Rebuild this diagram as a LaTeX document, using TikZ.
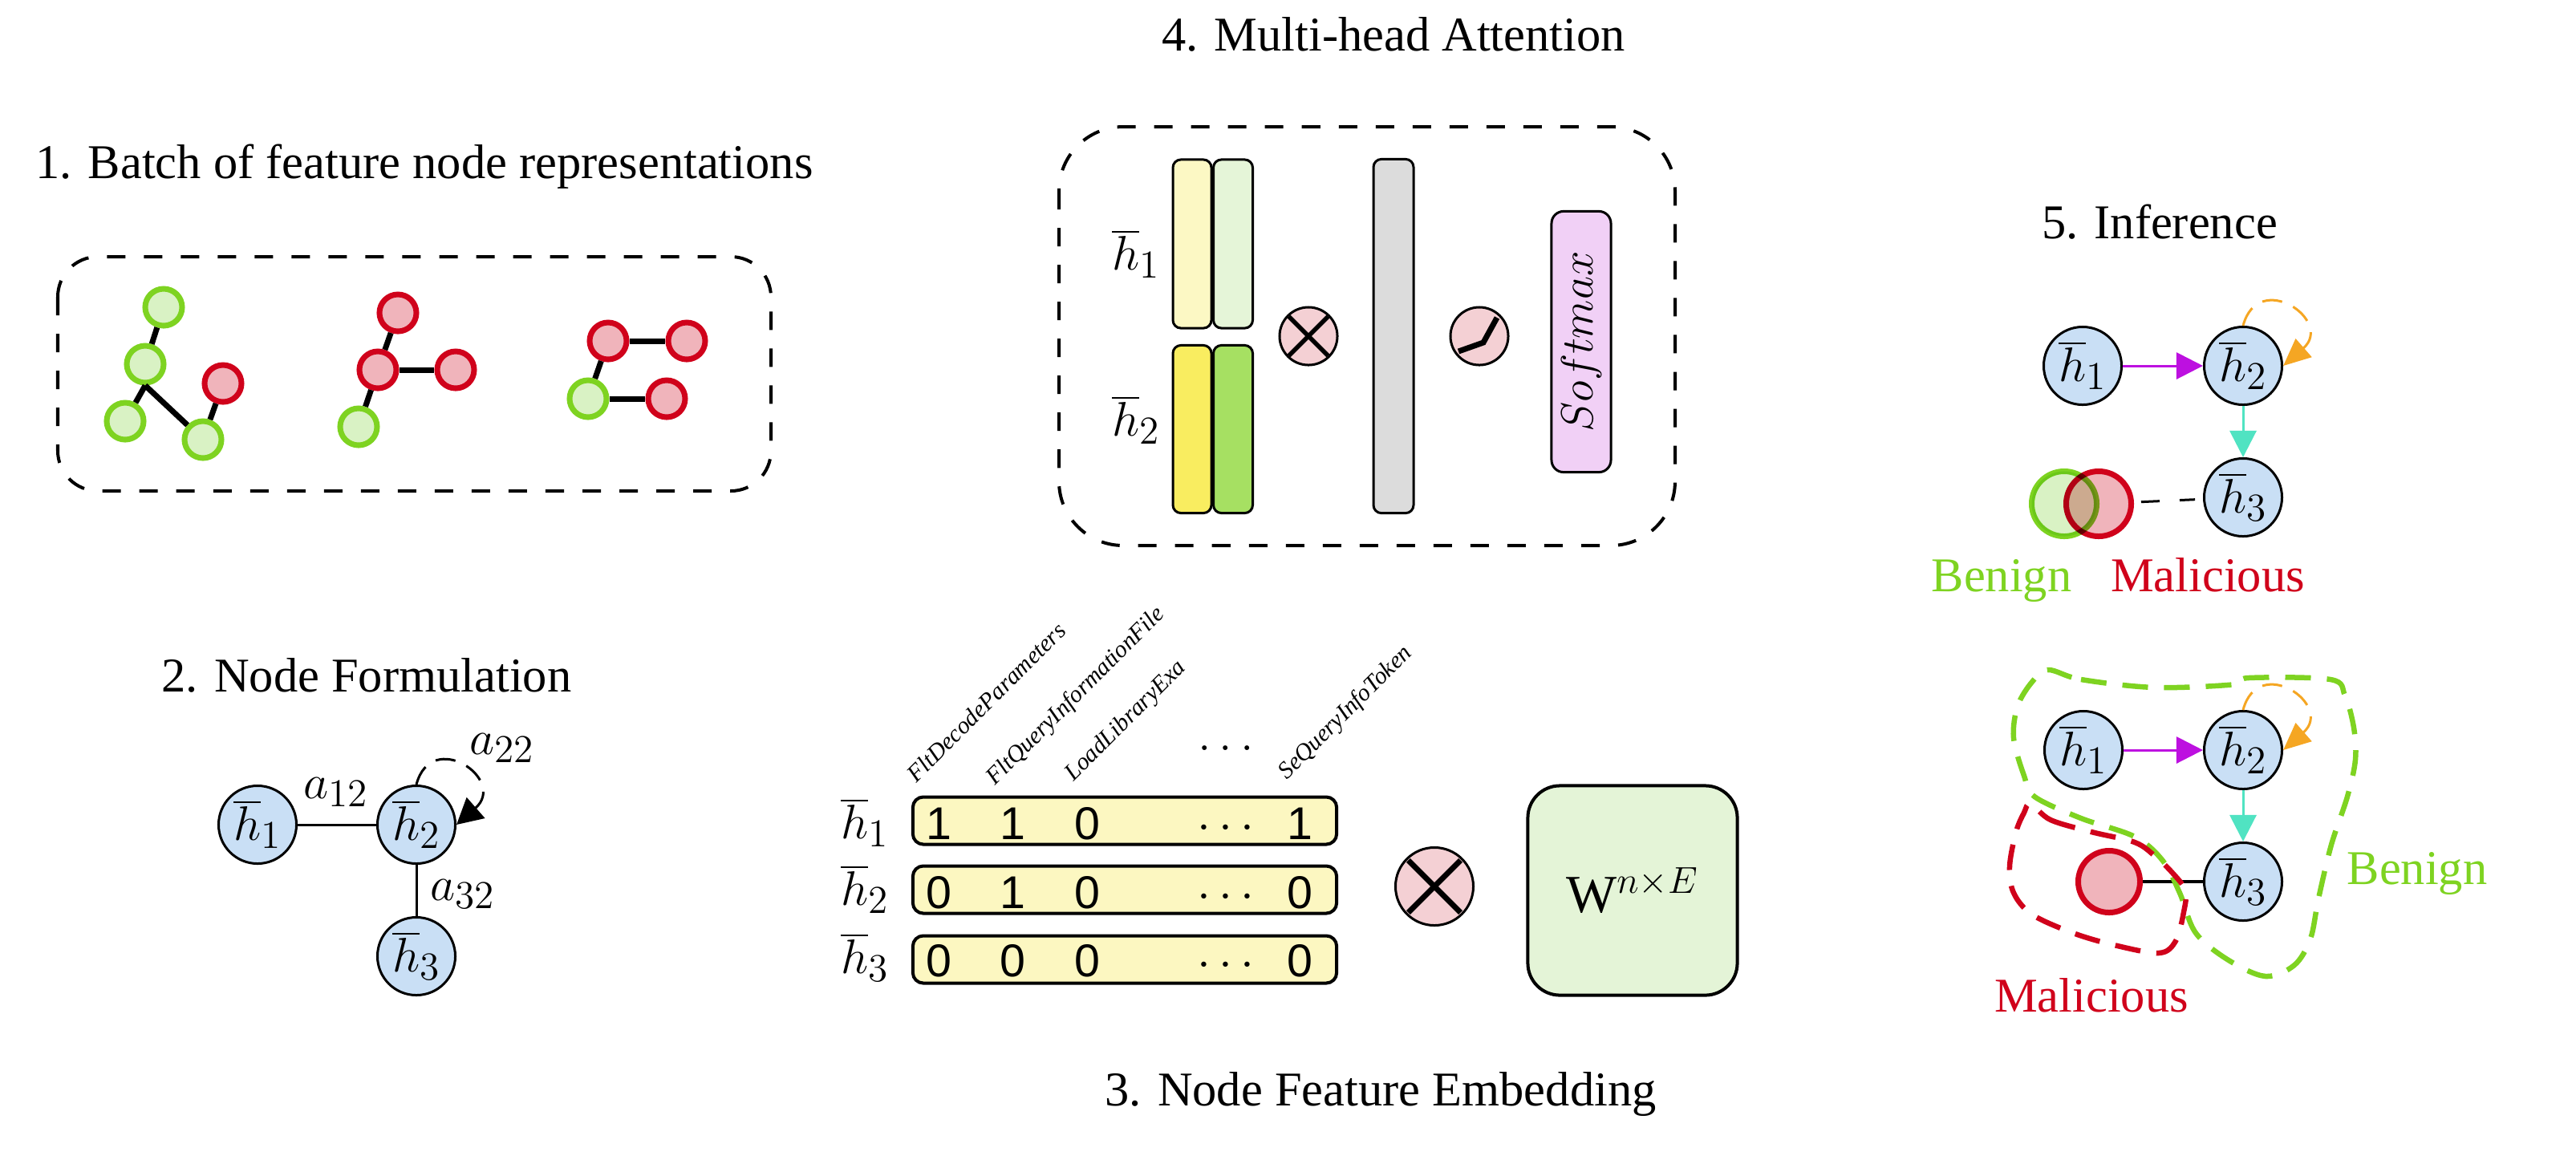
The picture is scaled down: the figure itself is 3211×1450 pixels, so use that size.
\RequirePackage{fix-cm}
\documentclass[tikz,border=0pt]{standalone}
\usepackage{fontspec}
\setmainfont{Liberation Serif}
\newfontfamily\digitfont{Liberation Sans}
\DeclareMathSizes{17.2}{17.2}{14}{10}
\usetikzlibrary{arrows.meta}

\definecolor{nodeblue}{RGB}{201,223,245}
\definecolor{bgreen}{RGB}{126,211,33}
\definecolor{bgreenfill}{RGB}{217,242,196}
\definecolor{mred}{RGB}{208,2,27}
\definecolor{mredfill}{RGB}{240,180,187}
\definecolor{attmag}{RGB}{189,16,224}
\definecolor{atteal}{RGB}{80,227,194}
\definecolor{attorange}{RGB}{245,166,35}
\definecolor{vecyellow}{RGB}{252,248,196}
\definecolor{vecgreen}{RGB}{229,245,216}
\definecolor{keyyellow}{RGB}{249,237,96}
\definecolor{keygreen}{RGB}{166,224,98}
\definecolor{scoregray}{RGB}{220,220,220}
\definecolor{softviolet}{RGB}{241,208,246}
\definecolor{oppink}{RGB}{244,208,212}
\definecolor{rowyellow}{RGB}{252,247,193}
\definecolor{wgreen}{RGB}{228,244,215}

\begin{document}
\begin{tikzpicture}
[x=0.01cm,y=-0.01cm
,font=\fontsize{17.2}{20}\selectfont
,hn/.style={circle,draw,line width=0.03cm,fill=nodeblue,minimum size=0.97cm,inner sep=0pt}
,bn/.style={circle,draw=bgreen,fill=bgreenfill,line width=0.07cm,minimum size=0.46cm,inner sep=0pt}
,mn/.style={bn,draw=mred,fill=mredfill}
,ge/.style={line width=0.07cm}
,dashbox/.style={line width=0.04cm,dash pattern=on 0.23cm off 0.23cm,rounded corners=0.5cm}
,ttl/.style={anchor=base}
,vec/.style={draw,line width=0.03cm,rounded corners=0.1cm,inner sep=0pt}
,featrow/.style={vec,fill=rowyellow,line width=0.04cm,rounded corners=0.13cm,minimum width=5.28cm,minimum height=0.59cm}
,op/.style={circle,draw,line width=0.03cm,fill=oppink,inner sep=0pt}
,feat/.style={rotate=45,anchor=base west,inner sep=0pt,font=\fontsize{8.5}{10}\selectfont\itshape}
,digit/.style={anchor=base,inner sep=0pt,font=\fontsize{16.3}{19}\selectfont\digitfont}
,selfloop/.style={line width=0.03cm,dash pattern=on 0.25cm off 0.15cm}
,ar/.style={line width=0.03cm,arrows={-Triangle[length=0.33cm,width=0.33cm]}}
,blob/.style={line width=0.065cm,dash pattern=on 0.32cm off 0.2cm}
]
\useasboundingbox (0,0) rectangle (3211,1450);

% 1. batch of graphs
\node[ttl] (t1) at (529,222) {1. Batch of feature node representations};
\draw[dashbox] (72,320) rectangle (961,612);
\node[bn] (ga1) at (204,383) {};
\node[bn] (ga2) at (181,454) {};
\node[bn] (ga3) at (156,525) {};
\node[bn] (ga4) at (253,548) {};
\node[mn] (ra1) at (278,478) {};
\draw[ge] (ga1) -- (ga2);
\draw[ge] (ga2.south) -- (ga3);
\draw[ge] (ga2.south) -- (ga4);
\draw[ge] (ra1) -- (ga4);
\node[mn] (rb1) at (496,390) {};
\node[mn] (rb2) at (471,461) {};
\node[mn] (rb3) at (568,461) {};
\node[bn] (gb1) at (447,532) {};
\draw[ge] (rb1) -- (rb2);
\draw[ge] (rb2) -- (rb3);
\draw[ge] (rb2) -- (gb1);
\node[mn] (rc1) at (758,425) {};
\node[mn] (rc2) at (856,425) {};
\node[bn] (gc1) at (733,497) {};
\node[mn] (rc3) at (831,497) {};
\draw[ge] (rc1) -- (rc2);
\draw[ge] (rc1) -- (gc1);
\draw[ge] (gc1) -- (rc3);

% 2. node formulation
\node[ttl] (t2) at (457,862) {2. Node Formulation};
\node[hn] (f1) at (321,1028) {$\overline{h}_1$};
\node[hn] (f2) at (519,1028) {$\overline{h}_2$};
\node[hn] (f3) at (519,1192) {$\overline{h}_3$};
\draw[line width=0.03cm] (f1) -- (f2);
\draw[line width=0.03cm] (f2) -- (f3);
\draw[selfloop,arrows={-Triangle[length=0.32cm,width=0.34cm]}] (f2.north) .. controls (538,907) and (633,972) .. (f2.east);
\node[anchor=base] (a12) at (419,995) {$a_{12}$};
\node[anchor=base] (a32) at (577,1122) {$a_{32}$};
\node[anchor=base] (a22) at (626,940) {$a_{22}$};

% 3. node feature embedding
\node[ttl] (t3) at (1721,1378) {3. Node Feature Embedding};
\node[featrow] (r1) at (1402,1023) {};
\node[featrow] (r2) at (1402,1109) {};
\node[featrow] (r3) at (1402,1196) {};
\node[anchor=base] (l1) at (1078,1045) {$\overline{h}_1$};
\node[anchor=base] (l2) at (1078,1128) {$\overline{h}_2$};
\node[anchor=base] (l3) at (1078,1213) {$\overline{h}_3$};
\node[feat] (c1) at (1142,977) {FltDecodeParameters};
\node[feat] (c2) at (1240,980) {FltQueryInformationFile};
\node[feat] (c3) at (1338,975) {LoadLibraryExa};
\node[anchor=base] (c4) at (1528,935) {$\ldots$};
\node[feat] (c5) at (1604,973) {SeQueryInfoToken};
\node[digit] (d11) at (1170,1046) {1};
\node[digit] (d12) at (1262,1046) {1};
\node[digit] (d13) at (1355,1046) {0};
\node[anchor=base] (d14) at (1528,1046) {$\cdots$};
\node[digit] (d15) at (1620,1046) {1};
\node[digit] (d21) at (1170,1132) {0};
\node[digit] (d22) at (1262,1132) {1};
\node[digit] (d23) at (1355,1132) {0};
\node[anchor=base] (d24) at (1528,1132) {$\cdots$};
\node[digit] (d25) at (1620,1132) {0};
\node[digit] (d31) at (1170,1217) {0};
\node[digit] (d32) at (1262,1217) {0};
\node[digit] (d33) at (1355,1217) {0};
\node[anchor=base] (d34) at (1528,1217) {$\cdots$};
\node[digit] (d35) at (1620,1217) {0};
\node[op,minimum size=0.97cm] (mul3) at (1788,1105) {};
\draw[line width=0.07cm,shorten <=0.04cm,shorten >=0.04cm] (mul3.45) -- (mul3.225);
\draw[line width=0.07cm,shorten <=0.04cm,shorten >=0.04cm] (mul3.135) -- (mul3.315);
\node[draw,line width=0.04cm,rounded corners=0.4cm,fill=wgreen,minimum size=2.61cm,font=\fontsize{19}{22}\selectfont] (wmat) at (2035,1110) {$\mathrm{W}^{n\times E}$};

% 4. multi-head attention
\node[ttl] (t4) at (1737,63) {4. Multi-head Attention};
\draw[dashbox,rounded corners=0.8cm] (1320,158) rectangle (2088,680);
\node[vec,fill=vecyellow,minimum width=0.48cm,minimum height=2.1cm] (q1) at (1486,304) {};
\node[vec,fill=vecgreen,minimum width=0.49cm,minimum height=2.1cm] (k1) at (1537,304) {};
\node[vec,fill=keyyellow,minimum width=0.48cm,minimum height=2.09cm] (q2) at (1486,535) {};
\node[vec,fill=keygreen,minimum width=0.49cm,minimum height=2.09cm] (k2) at (1537,535) {};
\node[anchor=base] (hq1) at (1416,336) {$\overline{h}_1$};
\node[anchor=base] (hq2) at (1416,543) {$\overline{h}_2$};
\node[op,minimum size=0.72cm] (mul4) at (1631,419) {};
\draw[line width=0.055cm,shorten <=0.03cm,shorten >=0.03cm] (mul4.45) -- (mul4.225);
\draw[line width=0.055cm,shorten <=0.03cm,shorten >=0.03cm] (mul4.135) -- (mul4.315);
\node[vec,fill=scoregray,minimum width=0.5cm,minimum height=4.41cm] (score) at (1737,419) {};
\node[op,minimum size=0.72cm] (relu) at (1844,419) {};
\draw[line width=0.07cm] ([shift={(-26,19)}]relu.center) -- ([shift={(5,8)}]relu.center) -- ([shift={(22,-23)}]relu.center);
\node[vec,fill=softviolet,rounded corners=0.15cm,rotate=90,minimum width=3.25cm,minimum height=0.74cm,font=\fontsize{16}{19}\selectfont] (soft) at (1971,426) {$Softmax$};

% 5. inference
\node[ttl] (t5) at (2692,297) {5. Inference};
\node[hn] (p1) at (2596,456) {$\overline{h}_1$};
\node[hn] (p2) at (2796,456) {$\overline{h}_2$};
\node[hn] (p3) at (2796,620) {$\overline{h}_3$};
\draw[ar,attmag] (p1) -- (p2);
\draw[ar,atteal] (p2) -- (p3);
\draw[selfloop,attorange,arrows={-Triangle[length=0.34cm,width=0.3cm]}] (p2.north) .. controls (2815,335) and (2910,400) .. (p2.east);
\node[circle,draw=mred,fill=mredfill,line width=0.07cm,minimum size=0.81cm] (pm) at (2616,628) {};
\begin{scope}[blend mode=multiply]
\node[circle,draw=bgreen,fill=bgreenfill,line width=0.07cm,minimum size=0.81cm] (pb) at (2573,628) {};
\end{scope}
\draw[line width=0.03cm,dash pattern=on 0.23cm off 0.25cm,shorten <=0.09cm,shorten >=0.1cm] (pm) -- (p3);
\node[anchor=base,text=bgreen] (lb1) at (2495,737) {Benign};
\node[anchor=base,text=mred] (lm1) at (2752,737) {Malicious};

\node[hn] (s1) at (2597,935) {$\overline{h}_1$};
\node[hn] (s2) at (2796,935) {$\overline{h}_2$};
\node[hn] (s3) at (2796,1099) {$\overline{h}_3$};
\node[circle,draw=mred,fill=mredfill,line width=0.07cm,minimum size=0.77cm] (sm) at (2629,1099) {};
\draw[line width=0.04cm] (sm) -- (s3);
\draw[ar,attmag] (s1) -- (s2);
\draw[ar,atteal] (s2) -- (s3);
\draw[selfloop,attorange,arrows={-Triangle[length=0.34cm,width=0.3cm]}] (s2.north) .. controls (2815,814) and (2910,879) .. (s2.east);
\draw[blob,bgreen] plot[smooth cycle,tension=0.55] coordinates {(2553,835) (2594,847) (2686,857) (2788,853) (2803,845) (2905,847) (2923,867) (2934,907) (2936,947) (2926,993) (2906,1053) (2890,1120) (2880,1170) (2860,1203) (2824,1217) (2778,1197) (2737,1163) (2717,1113) (2696,1073) (2661,1043) (2594,1020) (2536,993) (2523,967) (2510,920) (2515,880) (2533,850)};
\draw[blob,mred] plot[smooth cycle,tension=0.55] coordinates {(2531,1002) (2556,1022) (2607,1037) (2661,1050) (2686,1067) (2707,1087) (2724,1110) (2722,1137) (2712,1173) (2691,1188) (2635,1178) (2584,1163) (2533,1140) (2510,1113) (2505,1080) (2513,1037) (2523,1013)};
\node[anchor=base,text=bgreen] (lb2) at (3013,1102) {Benign};
\node[anchor=base,text=mred] (lm2) at (2607,1261) {Malicious};
\end{tikzpicture}
\end{document}
